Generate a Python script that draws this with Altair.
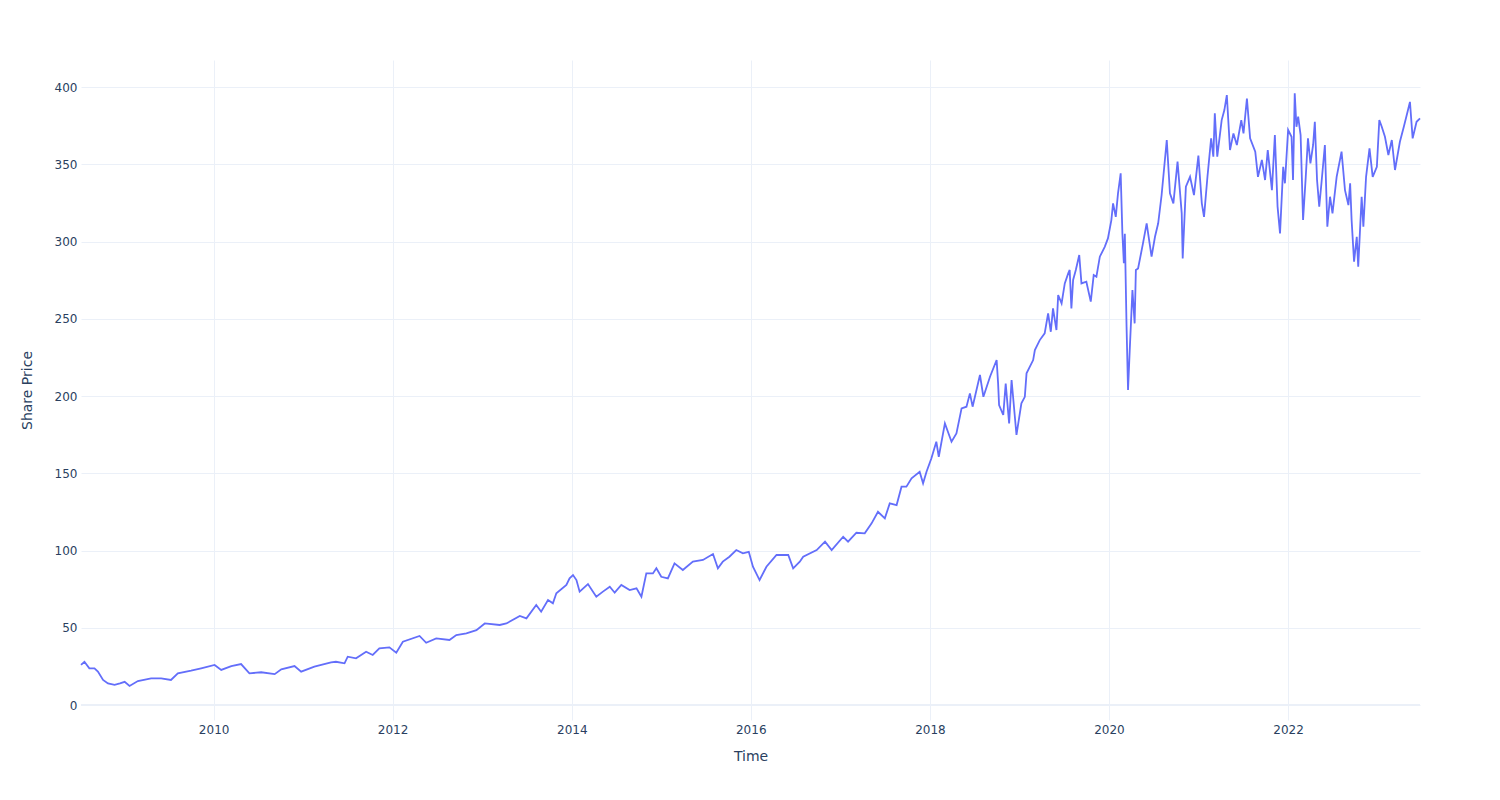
import altair as alt
import pandas as pd

dates = [
    "2008-07-09", "2008-07-23", "2008-08-12", "2008-09-02", "2008-09-16", "2008-10-07", "2008-10-27", "2008-11-23", "2008-12-15",
    "2009-01-03", "2009-01-23", "2009-02-26", "2009-04-21", "2009-06-01", "2009-07-11", "2009-08-08", "2009-10-01", "2009-11-11",
    "2010-01-05", "2010-02-01", "2010-03-14", "2010-04-23", "2010-05-27", "2010-07-14", "2010-09-07", "2010-10-04", "2010-11-27", "2010-12-24",
    "2011-02-16", "2011-04-25", "2011-05-15", "2011-06-19", "2011-07-02", "2011-08-05", "2011-09-15", "2011-10-12", "2011-11-08", "2011-12-19",
    "2012-01-16", "2012-02-12", "2012-04-20", "2012-05-17", "2012-06-27", "2012-08-20", "2012-09-17", "2012-10-28", "2012-12-08",
    "2013-01-11", "2013-03-13", "2013-04-09", "2013-06-03", "2013-06-30", "2013-08-09", "2013-08-29", "2013-09-26", "2013-10-16", "2013-10-30", "2013-12-10", "2013-12-23",
    "2014-01-06", "2014-01-20", "2014-02-02", "2014-03-08", "2014-04-11", "2014-05-08", "2014-06-05", "2014-06-25", "2014-07-22", "2014-08-25", "2014-09-22", "2014-10-12", "2014-11-01", "2014-11-28", "2014-12-12",
    "2015-01-01", "2015-01-28", "2015-02-24", "2015-03-30", "2015-05-10", "2015-06-20", "2015-07-31", "2015-08-20", "2015-09-09", "2015-10-06", "2015-11-03", "2015-11-30", "2015-12-24",
    "2016-01-10", "2016-02-06", "2016-03-05", "2016-04-15", "2016-06-02", "2016-06-22", "2016-07-19", "2016-08-02", "2016-09-26", "2016-10-30", "2016-11-26",
    "2017-01-12", "2017-02-01", "2017-03-07", "2017-04-10", "2017-05-08", "2017-06-03", "2017-07-01", "2017-07-21", "2017-08-18", "2017-09-07", "2017-09-27", "2017-10-18", "2017-11-20", "2017-12-04", "2017-12-18",
    "2018-01-07", "2018-01-27", "2018-02-06", "2018-03-03", "2018-03-30", "2018-04-19", "2018-05-10", "2018-05-30", "2018-06-13", "2018-06-24", "2018-07-24", "2018-08-07", "2018-09-03", "2018-09-30", "2018-10-06", "2018-10-10", "2018-10-27", "2018-11-06", "2018-11-20", "2018-11-30", "2018-12-20",
    "2019-01-09", "2019-01-23", "2019-01-30", "2019-02-26", "2019-03-05", "2019-03-25", "2019-04-14", "2019-04-28", "2019-05-09", "2019-05-18", "2019-06-01", "2019-06-08", "2019-06-22", "2019-07-05", "2019-07-19", "2019-07-25", "2019-08-01", "2019-08-08", "2019-08-19", "2019-09-02", "2019-09-11", "2019-10-01", "2019-10-19", "2019-10-31", "2019-11-11", "2019-11-25", "2019-12-15", "2019-12-28",
    "2020-01-11", "2020-01-18", "2020-01-29", "2020-02-07", "2020-02-18", "2020-02-25", "2020-03-02", "2020-03-06", "2020-03-13", "2020-03-19", "2020-03-26", "2020-04-06", "2020-04-15", "2020-04-20", "2020-04-29", "2020-05-19", "2020-06-03", "2020-06-23", "2020-07-07", "2020-07-20", "2020-08-03", "2020-08-24", "2020-09-06", "2020-09-20", "2020-10-07", "2020-10-24", "2020-10-28", "2020-11-10", "2020-11-27", "2020-12-13", "2020-12-31",
    "2021-01-14", "2021-01-23", "2021-02-06", "2021-02-21", "2021-03-02", "2021-03-08", "2021-03-18", "2021-04-05", "2021-04-16", "2021-04-26", "2021-05-09", "2021-05-23", "2021-06-06", "2021-06-24", "2021-07-03", "2021-07-17", "2021-07-30", "2021-08-20", "2021-08-31", "2021-09-16", "2021-09-29", "2021-10-10", "2021-10-27", "2021-11-08", "2021-11-19", "2021-11-29", "2021-12-12", "2021-12-19",
    "2022-01-01", "2022-01-15", "2022-01-21", "2022-01-28", "2022-02-04", "2022-02-11", "2022-02-21", "2022-03-03", "2022-03-14", "2022-03-23", "2022-04-02", "2022-04-13", "2022-04-20", "2022-04-29", "2022-05-08", "2022-05-17", "2022-05-31", "2022-06-10", "2022-06-21", "2022-07-01", "2022-07-18", "2022-08-07", "2022-08-21", "2022-09-04", "2022-09-11", "2022-09-17", "2022-09-27", "2022-10-08", "2022-10-14", "2022-10-28", "2022-11-04", "2022-11-15", "2022-11-29", "2022-12-12", "2022-12-29",
    "2023-01-08", "2023-01-18", "2023-01-31", "2023-02-14", "2023-02-28", "2023-03-13", "2023-04-02", "2023-04-18", "2023-05-03", "2023-05-13", "2023-05-24", "2023-06-09", "2023-06-23",
]

prices = [
    26.0, 28.0, 23.7, 23.7, 21.6, 16.2, 14.0, 13.0, 14.0,
    15.0, 12.3, 15.5, 17.2, 17.2, 16.2, 20.5, 22.2, 23.7,
    25.9, 22.7, 25.2, 26.5, 20.5, 21.2, 20.0, 23.1, 25.2, 21.6,
    24.8, 27.6, 28.0, 27.0, 31.3, 30.2, 34.5, 32.4, 36.7, 37.3,
    33.9, 41.0, 44.7, 40.3, 43.1, 42.1, 45.3, 46.4, 48.5,
    52.8, 51.8, 52.8, 57.6, 56.1, 64.7, 60.4, 68.0, 65.8, 72.3, 77.7, 82.0,
    84.1, 80.9, 73.4, 78.3, 70.1, 73.4, 76.6, 72.7, 77.7, 74.4, 75.5, 70.1, 85.2, 85.2, 88.5,
    83.0, 82.0, 91.7, 87.4, 92.8, 93.9, 97.7, 88.5, 92.8, 96.0, 100.3, 98.2, 99.2,
    89.5, 80.9, 89.5, 97.1, 97.1, 88.5, 92.8, 96.0, 100.3, 105.7, 100.3,
    108.9, 105.7, 111.5, 111.1, 117.6, 125.1, 120.8, 130.5, 129.4, 141.3, 141.3, 146.7, 151.0, 143.5, 151.0,
    159.7, 170.4, 160.7, 182.3, 170.4, 175.8, 192.0, 193.1, 201.7, 193.1, 213.6, 199.5, 212.5, 223.3, 208.2, 194.2, 187.7, 208.0, 182.3, 210.4, 174.8,
    195.3, 199.5, 214.7, 223.3, 229.8, 236.2, 240.6, 253.5, 241.6, 256.7, 242.7, 265.4, 260.0, 272.9, 279.4, 281.6, 256.7, 275.1, 281.6, 291.3, 272.9, 274.0, 261.1, 278.3, 277.2, 290.2, 296.6, 302.0,
    313.9, 324.7, 316.0, 331.0, 344.1, 305.2, 285.9, 305.0, 244.8, 203.9, 229.8, 268.6, 247.0, 281.6, 282.6, 298.8, 311.8, 290.2, 303.1, 311.8, 330.1, 365.7, 331.2, 324.7, 351.7, 318.2, 289.1, 335.5, 341.9, 330.1, 355.6,
    324.7, 316.0, 341.9, 366.8, 354.9, 383.0, 354.9, 378.6, 385.1, 394.8, 359.2, 370.0, 362.5, 378.6, 370.0, 392.6, 366.8, 358.2, 341.9, 352.8, 339.8, 359.2, 333.3, 368.9, 322.6, 305.3, 348.4, 337.7,
    372.2, 367.8, 339.8, 395.9, 374.3, 380.8, 368.9, 313.9, 341.9, 366.8, 350.6, 362.5, 377.5, 339.8, 322.6, 337.7, 362.5, 309.6, 329.0, 318.2, 341.9, 358.2, 333.3, 323.6, 337.7, 313.9, 287.0, 303.1, 283.7, 329.0, 309.6, 341.9, 360.3, 341.9, 348.4,
    378.6, 374.3, 367.8, 356.0, 365.7, 346.3, 364.6, 374.3, 383.9, 390.4, 366.8, 377.5, 379.7,
]

y_ticks = [0, 50, 100, 150, 200, 250, 300, 350, 400]
x_tick_years = [2010, 2012, 2014, 2016, 2018, 2020, 2022]

df = pd.DataFrame({"Time": pd.to_datetime(dates), "Share Price": prices})

FONT = "DejaVu Sans"
TEXT = "#2a3f5f"
GRID = "#EBF0F8"

x_scale = alt.Scale(nice=False)
y_scale = alt.Scale(domain=[-9.7, 417.5], nice=False, zero=False)

x_axis = alt.Axis(
    title="Time",
    values=[alt.DateTime(year=y, month=1, date=1) for y in x_tick_years],
    format="%Y",
    grid=True,
    labelPadding=4,
    titlePadding=14,
)
y_axis = alt.Axis(
    title="Share Price",
    values=y_ticks,
    grid=True,
    labelPadding=4,
    titlePadding=20,
)

zero_line = alt.Chart(df).mark_rule(color=GRID, strokeWidth=2).encode(
    y=alt.datum(0, scale=y_scale)
)

line = alt.Chart(df).mark_line(color="#636EFA", strokeWidth=1.8).encode(
    x=alt.X("Time:T", scale=x_scale, axis=x_axis),
    y=alt.Y("Share Price:Q", scale=y_scale, axis=y_axis),
)

chart = (
    alt.layer(zero_line, line)
    .properties(
        width=1339,
        height=660,
        padding={"left": 81, "top": 60, "right": 80, "bottom": 80},
        autosize=alt.AutoSizeParams(type="none"),
        background="white",
    )
    .configure_view(strokeWidth=0)
    .configure_axis(
        domain=False,
        ticks=False,
        gridColor=GRID,
        gridWidth=1,
        labelFont=FONT,
        labelFontSize=12,
        labelColor=TEXT,
        titleFont=FONT,
        titleFontSize=14,
        titleColor=TEXT,
        titleFontWeight="normal",
    )
)

chart.save("out.html", embed_options={"renderer": "svg", "actions": False})
